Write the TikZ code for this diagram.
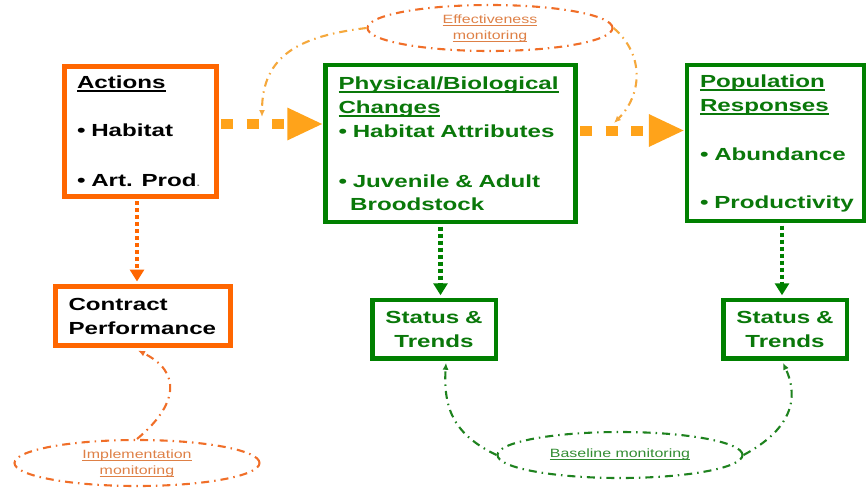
\documentclass[tikz,border=0pt]{standalone}
\usepackage{fontspec}
\setmainfont{Liberation Sans}
\newfontfamily\boxfont[FakeStretch=1.38]{Liberation Sans}
\newfontfamily\labfont[FakeStretch=1.33]{Liberation Sans}
\usetikzlibrary{arrows.meta,shapes.geometric}
\definecolor{orangeB}{RGB}{255,102,0}
\definecolor{orangeA}{RGB}{255,163,26}
\definecolor{orangeE}{RGB}{240,110,40}
\definecolor{orangeC}{RGB}{245,168,60}
\definecolor{orangeT}{RGB}{222,128,70}
\definecolor{greenB}{RGB}{0,128,0}
\definecolor{greenT}{RGB}{10,120,10}
\definecolor{greenS}{RGB}{30,130,30}
\definecolor{greenL}{RGB}{50,140,50}
\newcommand\myul[1]{\leavevmode\begingroup\setbox0\hbox{#1}\rlap{\rule[-3.6pt]{\wd0}{1.6pt}}\box0\endgroup}
\newcommand\myuls[1]{\leavevmode\begingroup\setbox0\hbox{#1}\rlap{\rule[-2.4pt]{\wd0}{0.8pt}}\box0\endgroup}
\begin{document}
\begin{tikzpicture}[x=1pt,y=-1pt,
  obox/.style={rectangle, draw=orangeB, line width=5pt, fill=white,
    inner xsep=13pt, inner ysep=0pt, align=left,
    font=\boxfont\bfseries\fontsize{17.5}{24}\selectfont, text=black},
  gbox/.style={obox, draw=greenB, line width=4.5pt, text=greenT},
  ellip/.style={ellipse, line width=2.1pt, inner sep=0pt, align=center,
    minimum width=245pt, minimum height=46pt,
    dash pattern=on 8pt off 5pt on 1.5pt off 5pt,
    font=\labfont\fontsize{12}{16}\selectfont},
  bigarrow/.style={draw=orangeA, line width=10pt, dash pattern=on 12pt off 13.5pt,
    -{Triangle[length=36pt,width=30pt]}},
  dotarrow/.style={line width=4.8pt, dash pattern=on 4pt off 3pt,
    -{Triangle[length=12pt,width=14pt]}},
  curvearrow/.style={line width=2.1pt, dash pattern=on 8pt off 5pt on 1.5pt off 5pt,
    -{Latex[length=7pt,width=6pt]}}]
\useasboundingbox (0,0) rectangle (866,487);

% boxes
\node[obox, minimum height=130pt, text width=126pt] (actions) at (140,131)
  {\myul{Actions}\\[24pt]• Habitat\\[26pt]• Art. Prod{\fontsize{9}{9}\selectfont\color{gray}.}};
\node[gbox, minimum height=157pt, text width=224pt] (phys) at (450.5,143.5)
  {\myul{Physical/Biological}\\\myul{Changes}\\\mbox{• Habitat Attributes}\\[26pt]\mbox{• Juvenile \& Adult}\\[-1pt]\ \ Broodstock};
\node[gbox, minimum height=156pt, text width=151pt] (pop) at (775.5,143)
  {\myul{Population}\\\myul{Responses}\\[25pt]• Abundance\\[24pt]\mbox{• Productivity}};
\node[obox, minimum height=59pt, text width=149pt] (contract) at (143,316)
  {Contract\\Performance};
\node[gbox, minimum height=58.5pt, text width=97.5pt, align=center] (status1) at (434,329)
  {Status \&\\Trends};
\node[gbox, minimum height=58.5pt, text width=97.5pt, align=center] (status2) at (785,329)
  {Status \&\\Trends};

% monitoring ellipses
\node[ellip, draw=orangeE, text=orangeT] (effect) at (490,28)
  {\myuls{Effectiveness}\\\myuls{monitoring}};
\node[ellip, draw=orangeE, text=orangeT] (impl) at (137,463)
  {\myuls{Implementation}\\\myuls{monitoring}};
\node[ellip, draw=greenS, text=greenL] (base) at (620,455)
  {\raisebox{4pt}{\myuls{Baseline monitoring}}};

\coordinate (e1) at (262,117);
\coordinate (e2) at (614,123);

% main arrows
\draw[bigarrow] ([xshift=2.5pt,yshift=7pt]actions.east) -- ([yshift=7pt]actions.east -| phys.west);
\draw[bigarrow] ([xshift=2.25pt,yshift=13pt]phys.east) -- ([yshift=13pt]phys.east -| pop.west);
\draw[dotarrow, draw=orangeB] ([xshift=-3pt,yshift=-2.5pt]actions.south)
  -- ([xshift=-3pt,yshift=2.5pt]actions.south |- contract.north);
\draw[dotarrow, draw=greenB] ([xshift=-10pt,yshift=-2.25pt]phys.south)
  -- ([xshift=-10pt,yshift=2.25pt]phys.south |- status1.north);
\draw[dotarrow, draw=greenB] ([xshift=6.5pt,yshift=-2.25pt]pop.south)
  -- ([xshift=6.5pt,yshift=2.25pt]pop.south |- status2.north);

% monitoring arrows
\draw[curvearrow, draw=orangeC] (effect.west) .. controls (300,36) and (262,55) .. (e1);
\draw[curvearrow, draw=orangeC] (effect.east) .. controls (645,55) and (642,95) .. (e2);
\draw[curvearrow, draw=orangeE] (impl.north) .. controls (178,405) and (182,372) .. ([xshift=-5pt,yshift=-2.5pt]contract.south);
\draw[curvearrow, draw=greenS] (base.west) .. controls (455,435) and (443,410) .. ([xshift=12pt,yshift=-2.25pt]status1.south);
\draw[curvearrow, draw=greenS] (base.east) .. controls (790,430) and (800,400) .. ([xshift=-2pt,yshift=-2.25pt]status2.south);
\end{tikzpicture}
\end{document}
